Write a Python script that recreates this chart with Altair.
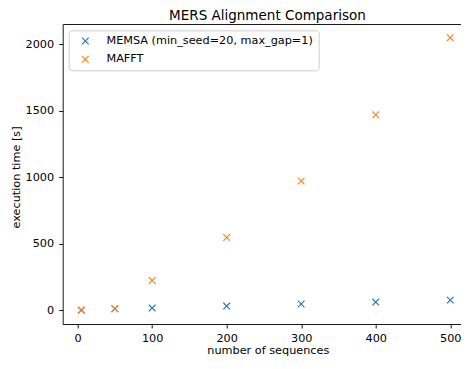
import altair as alt
import pandas as pd

sizes = [5, 50, 100, 200, 300, 400, 500]
memsa_times = [1, 12, 17, 32, 48, 62, 77]
mafft_times = [2, 12, 224, 548, 972, 1470, 2050]
series_names = ["MEMSA (min_seed=20, max_gap=1)", "MAFFT"]
series_colors = ["#1f77b4", "#ff7f0e"]
x_ticks = [0, 100, 200, 300, 400, 500]
y_ticks = [0, 500, 1000, 1500, 2000]

rows = []
for name, vals in zip(series_names, [memsa_times, mafft_times]):
    for s, v in zip(sizes, vals):
        rows.append({"n": s, "t": v, "series": name})
df = pd.DataFrame(rows)

XSHAPE = "M-1,-1L1,1M-1,1L1,-1"
FONT = "DejaVu Sans"
PADL, PADT = 54.7, 16
W, H = 398.3, 300

xscale = alt.Scale(domain=[-20, 514.4], nice=False, zero=False)
yscale = alt.Scale(domain=[-102.5, 2152.5], nice=False, zero=False)

base = alt.Chart(df)

points = base.mark_point(
    shape=XSHAPE, filled=False, size=45, strokeWidth=1.1, opacity=1
).encode(
    x=alt.X("n:Q", scale=xscale,
            axis=alt.Axis(values=x_ticks, format="d", title="number of sequences",
                          titleX=205.1, titleY=29.3, titleBaseline="alphabetic",
                          titleAlign="center", labelPadding=4)),
    y=alt.Y("t:Q", scale=yscale,
            axis=alt.Axis(values=y_ticks, format="d", title="execution time [s]",
                          titleX=-46.2, titleY=H / 2 + 3, titleAngle=270,
                          titleBaseline="middle", titleAlign="center",
                          labelPadding=5)),
    color=alt.Color("series:N",
                    scale=alt.Scale(domain=series_names, range=series_colors),
                    sort=series_names,
                    legend=alt.Legend(
                        title=None, orient="none", legendX=6, legendY=6.3,
                        fillColor="white", strokeColor="#cccccc", cornerRadius=3,
                        padding=5, symbolOffset=6, symbolType=XSHAPE,
                        symbolSize=45, symbolStrokeWidth=1.1, symbolFillColor="transparent",
                        labelFont=FONT, labelFontSize=11.25, labelColor="black",
                        labelLimit=400, labelOffset=15.5, rowPadding=5.4)),
)

top = base.mark_point(opacity=0).encode(
    x=alt.X("n:Q", scale=xscale,
            axis=alt.Axis(orient="top", labels=False, ticks=False, title=None,
                          domain=True, grid=False, minExtent=0, maxExtent=0))
)

chart = alt.layer(points, top).resolve_axis(x="independent").properties(
    width=W, height=H,
    autosize=alt.AutoSizeParams(type="none"),
    padding={"left": PADL, "top": PADT, "right": 0, "bottom": 32},
    title=alt.Title("MERS Alignment Comparison", font=FONT, fontSize=13.5,
                    fontWeight="normal", color="black", offset=-12.6,
                    baseline="bottom", frame="group", anchor="middle", dx=5.6),
).configure_view(stroke=None).configure_axis(
    domainColor="black", tickColor="black", labelColor="black", titleColor="black",
    labelFont=FONT, titleFont=FONT, labelFontSize=11.25, titleFontSize=11.25,
    titleFontWeight="normal", tickSize=4, domainWidth=0.9, tickWidth=0.9, grid=False,
)

chart.save("out.html", embed_options={"renderer": "svg", "actions": False})
